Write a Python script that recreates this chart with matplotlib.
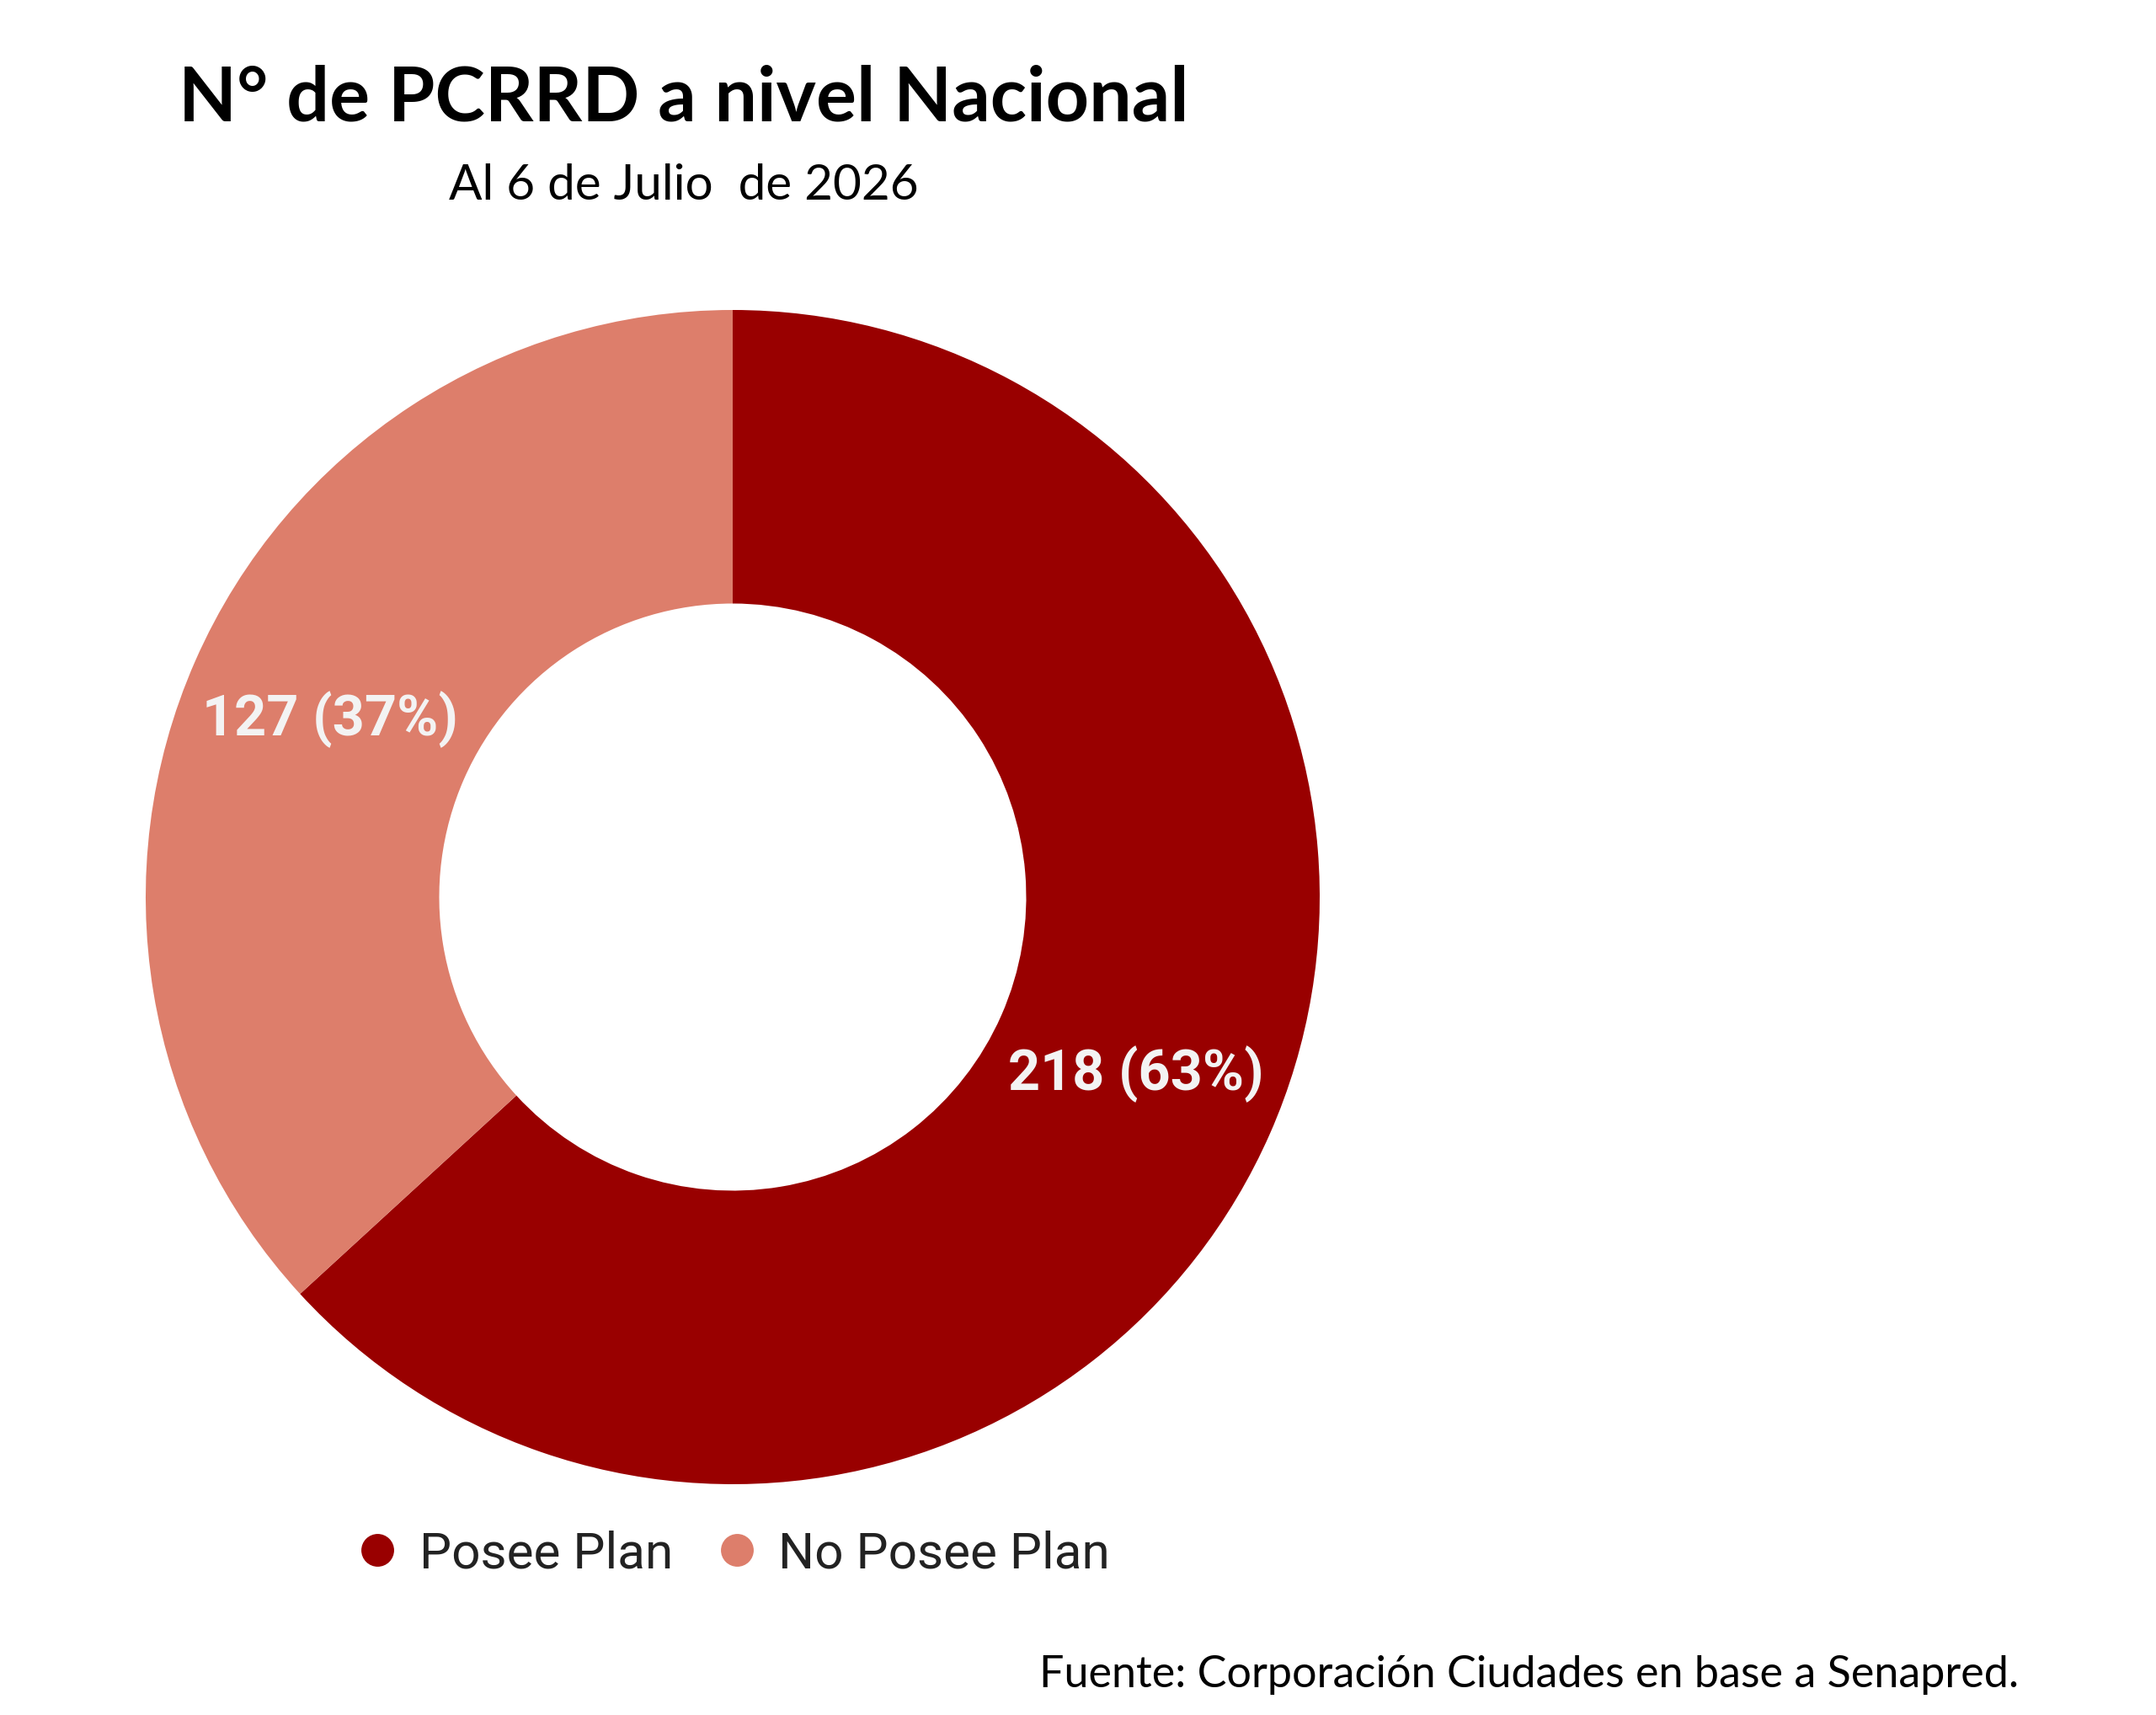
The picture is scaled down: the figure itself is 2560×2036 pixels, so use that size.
import matplotlib
matplotlib.use('Agg')
from matplotlib import pyplot as plt
from matplotlib.lines import Line2D

# Datos
categorias = ['Posee Plan', 'No Posee Plan']
valores = [218, 127]
colores = ['#990000', '#dd7e6b']

titulo = 'N° de PCRRD a nivel Nacional'
subtitulo = 'Al 6 de Julio  de 2026'
fuente = 'Fuente: Corporación Ciudades en base a Senapred.'

W, H = 2560, 2036
fig = plt.figure(figsize=(W / 100, H / 100), dpi=100)

# Eje del donut (centro ~ (870, 1065) px, radio ~697 px)
cx, cy, r = 870, 1065, 697
ax = fig.add_axes([(cx - r) / W, (H - cy - r) / H, 2 * r / W, 2 * r / H])
total = sum(valores)

def etiqueta(pct):
    v = int(round(pct * total / 100))
    return f'{v} ({pct:.0f}%)'

wedges, _, autotexts = ax.pie(valores, colors=colores, startangle=90, counterclock=False,
                              radius=1, wedgeprops=dict(width=0.5, linewidth=0),
                              autopct=etiqueta, pctdistance=0.75)
for t in autotexts:
    t.set_color('#f3f3f3')
    t.set_fontsize(48)
    t.set_fontweight('bold')
    t.set_family('Roboto')
ax.set_xlim(-1, 1)
ax.set_ylim(-1, 1)
ax.set_aspect('equal')
ax.axis('off')

# Títulos
fig.text(812 / W, 1 - 144 / H, titulo, ha='center', va='baseline',
         fontsize=64.5, fontweight='bold', family='Lato')
fig.text(812 / W, 1 - 237 / H, subtitulo, ha='center', va='baseline',
         fontsize=42, family='Lato')

# Leyenda
handles = [Line2D([], [], marker='o', linestyle='None', markersize=28,
                  markerfacecolor=c, markeredgewidth=0) for c in colores]
leg = fig.legend(handles, categorias, loc='center', bbox_to_anchor=(868 / W, 1 - 1845 / H),
                 ncol=2, frameon=False, handlelength=1.0, handletextpad=0.32,
                 columnspacing=0.75, prop={'family': 'Roboto', 'size': 43.5})
for t in leg.get_texts():
    t.set_color('#222222')

# Fuente
fig.text(2397 / W, 1 - 2003 / H, fuente, ha='right', va='baseline',
         fontsize=37.5, family='Lato')

plt.savefig('out.png', dpi=100)
